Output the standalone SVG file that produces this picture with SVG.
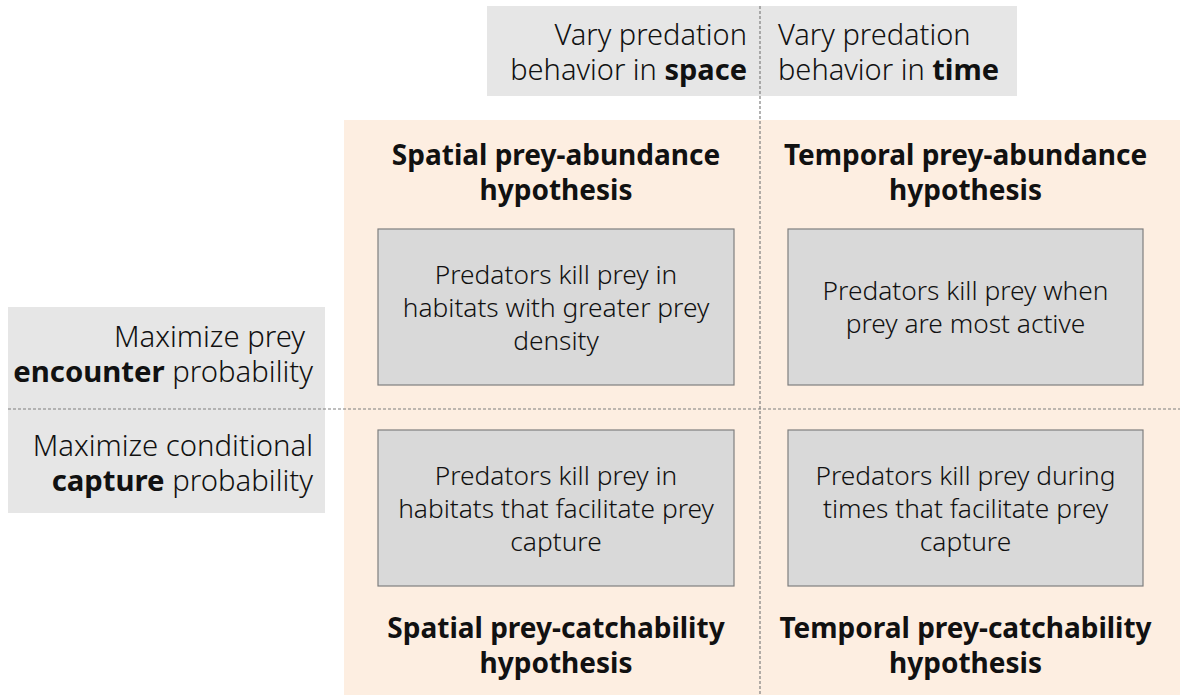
<svg xmlns="http://www.w3.org/2000/svg" width="1180" height="695" viewBox="0 0 1180 695">
<style>
.bg{fill:#fdeee1}
.lab{fill:#e6e6e6}
.box{fill:#d9d9d9;stroke:#7f7f7f;stroke-width:1.2}
.div{stroke:#7f7f7f;stroke-width:1.2;stroke-dasharray:3 2;fill:none}
text{font-family:"Noto Sans","Open Sans","Liberation Sans",sans-serif;fill:#111;font-weight:300}
.t28{font-size:29px}
.t29{font-size:29.3px}
.h{font-size:28px;font-weight:bold;text-anchor:middle;fill:#111}
.b{font-size:26.3px;text-anchor:middle}
.bold{font-weight:bold;fill:#111}
</style>
<rect width="1180" height="695" fill="#ffffff"/>
<rect class="bg" x="344" y="120" width="836" height="575"/>
<g id="top-labels">
<rect class="lab" x="487" y="6" width="530" height="90"/>
<text class="t28" x="747" y="45" text-anchor="end">Vary predation</text>
<text class="t28" x="747" y="80" text-anchor="end">behavior in <tspan class="bold">space</tspan></text>
<text class="t28" x="778" y="45">Vary predation</text>
<text class="t28" x="778" y="80">behavior in <tspan class="bold">time</tspan></text>
</g>
<g id="left-labels">
<rect class="lab" x="8" y="307" width="317" height="206"/>
<text class="t29" x="305" y="347" text-anchor="end">Maximize prey</text>
<text class="t29" x="313" y="382" text-anchor="end"><tspan class="bold">encounter</tspan> probability</text>
<text class="t29" x="313" y="456" text-anchor="end">Maximize conditional</text>
<text class="t29" x="313" y="491" text-anchor="end"><tspan class="bold">capture</tspan> probability</text>
</g>
<g id="connectors">
<line class="div" x1="760" y1="6" x2="760" y2="695"/>
<line class="div" x1="8" y1="409" x2="1180" y2="409"/>
</g>
<g id="spatial-abundance">
<text class="h" x="556" y="165">Spatial prey-abundance</text>
<text class="h" x="556" y="200">hypothesis</text>
<rect class="box" x="378" y="229" width="356" height="156"/>
<text class="b" x="556" y="284">Predators kill prey in</text>
<text class="b" x="556" y="317">habitats with greater prey</text>
<text class="b" x="556" y="350">density</text>
</g>
<g id="temporal-abundance">
<text class="h" x="965.5" y="165">Temporal prey-abundance</text>
<text class="h" x="965.5" y="200">hypothesis</text>
<rect class="box" x="788" y="229" width="355" height="156"/>
<text class="b" x="965.5" y="300">Predators kill prey when</text>
<text class="b" x="965.5" y="333">prey are most active</text>
</g>
<g id="spatial-catchability">
<rect class="box" x="378" y="430" width="356" height="156"/>
<text class="b" x="556" y="485">Predators kill prey in</text>
<text class="b" x="556" y="518">habitats that facilitate prey</text>
<text class="b" x="556" y="551">capture</text>
<text class="h" x="556" y="638">Spatial prey-catchability</text>
<text class="h" x="556" y="673">hypothesis</text>
</g>
<g id="temporal-catchability">
<rect class="box" x="788" y="430" width="355" height="156"/>
<text class="b" x="965.5" y="485">Predators kill prey during</text>
<text class="b" x="965.5" y="518">times that facilitate prey</text>
<text class="b" x="965.5" y="551">capture</text>
<text class="h" x="965.5" y="638">Temporal prey-catchability</text>
<text class="h" x="965.5" y="673">hypothesis</text>
</g>
</svg>
